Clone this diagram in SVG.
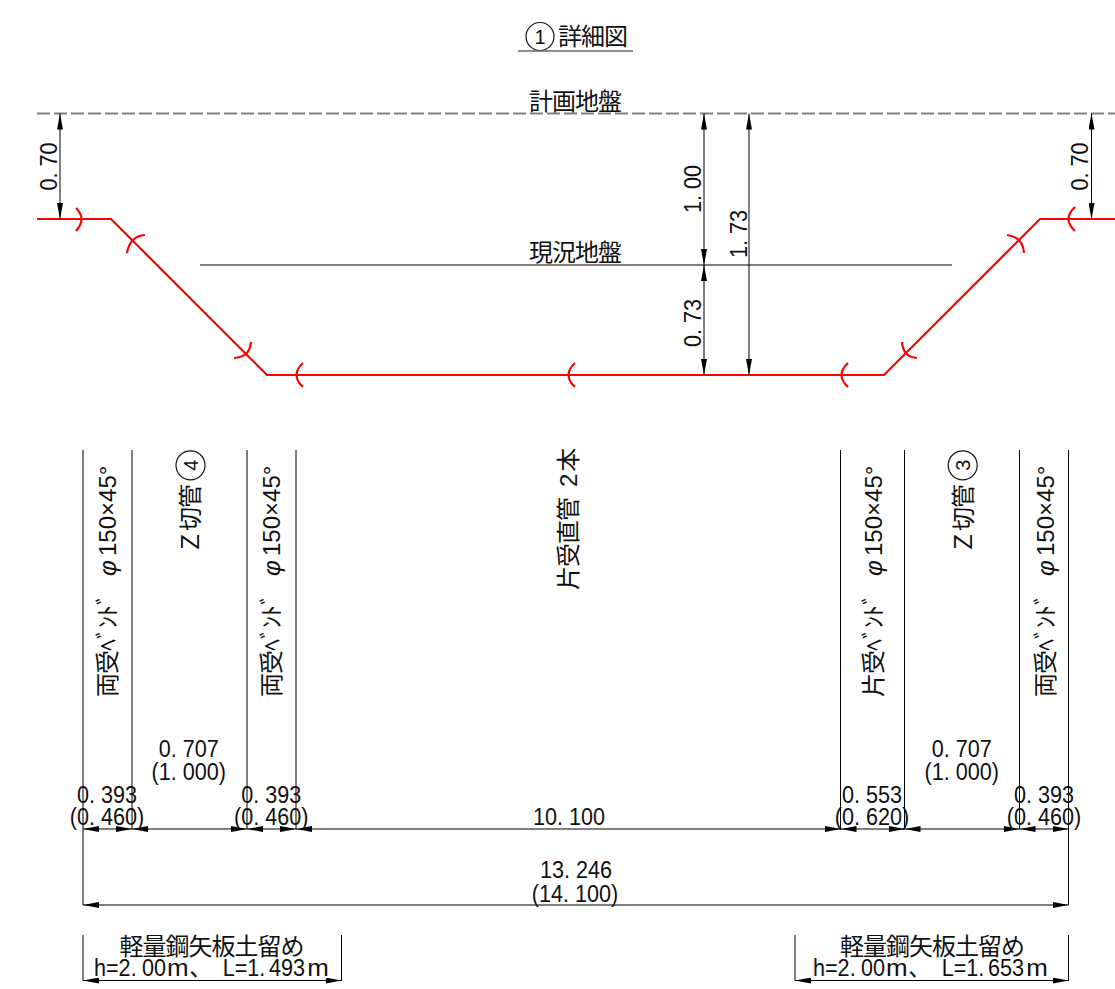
<svg xmlns="http://www.w3.org/2000/svg" width="1115" height="989" viewBox="0 0 1115 989">
<style>
text{font-family:"Noto Sans CJK JP","Liberation Sans",sans-serif;fill:#111;font-size:24px;letter-spacing:-1px}
.n{font-family:"Liberation Sans","Noto Sans CJK JP",sans-serif;font-size:24px;letter-spacing:0;text-anchor:middle}
.s{font-family:"Liberation Sans","Noto Sans CJK JP",sans-serif;font-size:24px;letter-spacing:0}
.l{font-family:"Liberation Sans",sans-serif;letter-spacing:0}
.o{font-family:"Liberation Sans",sans-serif;font-size:20px;letter-spacing:0;text-anchor:middle}
.j{text-anchor:middle}
.d{stroke:#000;stroke-width:1;fill:none}
.g{stroke:#808080;stroke-width:2;fill:none}
.r{stroke:#f00;stroke-width:2.2;fill:none}
.c{stroke:#111;stroke-width:1.2;fill:none}
</style>
<defs>
<marker id="a" viewBox="0 0 16 6" refX="16" refY="3" markerWidth="16" markerHeight="6" markerUnits="userSpaceOnUse" orient="auto-start-reverse"><path d="M16 3L0 0V6Z" fill="#000"/></marker>
</defs>
<rect width="1115" height="989" fill="#fff"/>
<g id="title"><circle class="c" cx="540" cy="36.500" r="14"/><text class="o" x="540" y="44">1</text><text x="558" y="45">詳細図</text><path class="g" style="stroke-width:1.500;stroke:#666" d="M518 51H633"/></g>
<g id="ground"><path class="g" stroke-dasharray="13 4" d="M37 113.500H1115"/><path class="g" d="M200 265H952"/><text class="j" x="575" y="110">計画地盤</text><text class="j" x="575" y="261">現況地盤</text></g>
<g id="pipe"><path class="r" d="M37 219H111L267 375H884L1040 219H1115"/>
<path class="r" d="M76 208Q87 219 76 231M145 235Q130 236 127 253M251 342Q250 357 234 358M303 363Q290 375 303 387M575 363Q562 375 575 387M848 363Q835 375 848 387M902 342Q903 357 917 358M1007 235Q1023 237 1024 253M1075 207Q1062 219 1075 231"/></g>
<g id="connectors">
<path class="d" marker-start="url(#a)" marker-end="url(#a)" d="M60 113.500V219"/>
<path class="d" marker-start="url(#a)" marker-end="url(#a)" d="M704 113.500V265"/>
<path class="d" marker-start="url(#a)" marker-end="url(#a)" d="M704 265V375"/>
<path class="d" marker-start="url(#a)" marker-end="url(#a)" d="M749 113.500V375"/>
<path class="d" marker-start="url(#a)" marker-end="url(#a)" d="M1091.500 113.500V219"/>
<path class="d" d="M83 450V905M132 450V829M247 450V829M296 450V829M840.500 450V829M904.500 450V829M1019.500 450V829M1068.500 450V905"/>
<path class="d" marker-start="url(#a)" marker-end="url(#a)" d="M83 829H132"/>
<path class="d" marker-start="url(#a)" marker-end="url(#a)" d="M132 829H247"/>
<path class="d" marker-start="url(#a)" marker-end="url(#a)" d="M247 829H296"/>
<path class="d" marker-start="url(#a)" marker-end="url(#a)" d="M296 829H840.500"/>
<path class="d" marker-start="url(#a)" marker-end="url(#a)" d="M840.500 829H904.500"/>
<path class="d" marker-start="url(#a)" marker-end="url(#a)" d="M904.500 829H1019.500"/>
<path class="d" marker-start="url(#a)" marker-end="url(#a)" d="M1019.500 829H1068.500"/>
<path class="d" marker-start="url(#a)" marker-end="url(#a)" d="M83 905H1068.500"/>
<path class="d" marker-start="url(#a)" marker-end="url(#a)" d="M83 980.500H341.500"/>
<path class="d" d="M83 935V981M341.500 935V981M795 935V981M1068.500 935V981"/>
<path class="d" marker-start="url(#a)" marker-end="url(#a)" d="M795 980.500H1068.500"/>
</g>
<g id="heights">
<text class="n" transform="translate(57 166.500) rotate(-90) scale(.9 1)">0.<tspan dx="6.700">70</tspan></text>
<text class="n" transform="translate(1088 166.500) rotate(-90) scale(.9 1)">0.<tspan dx="6.700">70</tspan></text>
<text class="n" transform="translate(701 189) rotate(-90) scale(.9 1)">1.<tspan dx="6.700">00</tspan></text>
<text class="n" transform="translate(701 323) rotate(-90) scale(.9 1)">0.<tspan dx="6.700">73</tspan></text>
<text class="n" transform="translate(746.500 234) rotate(-90) scale(.9 1)">1.<tspan dx="6.700">73</tspan></text>
</g>
<g id="labels-vertical">
<text transform="translate(116 697) rotate(-90)">両受ﾍﾞﾝﾄﾞ<tspan class="l" x="121" font-style="italic">φ</tspan><tspan class="l" x="141">150×45°</tspan></text>
<text transform="translate(280 697) rotate(-90)">両受ﾍﾞﾝﾄﾞ<tspan class="l" x="121" font-style="italic">φ</tspan><tspan class="l" x="141">150×45°</tspan></text>
<text transform="translate(882 697) rotate(-90)">片受ﾍﾞﾝﾄﾞ<tspan class="l" x="121" font-style="italic">φ</tspan><tspan class="l" x="141">150×45°</tspan></text>
<text transform="translate(1054 697) rotate(-90)">両受ﾍﾞﾝﾄﾞ<tspan class="l" x="121" font-style="italic">φ</tspan><tspan class="l" x="141">150×45°</tspan></text>
<text transform="translate(199 554) rotate(-90)">Ｚ切管</text>
<text transform="translate(972 554) rotate(-90)">Ｚ切管</text>
<circle class="c" cx="190.500" cy="465.300" r="14.500"/><text class="o" transform="translate(197.500 465.300) rotate(-90)">4</text>
<circle class="c" cx="962.700" cy="465.300" r="14.500"/><text class="o" transform="translate(969.700 465.300) rotate(-90)">3</text>
<text transform="translate(577 590) rotate(-90)">片受直管<tspan class="l" dx="11">2</tspan><tspan dx="2">本</tspan></text>
</g>
<g id="dims">
<text class="n" transform="translate(188.700 757) scale(.9 1)">0.<tspan dx="6.700">707</tspan></text><text class="n" transform="translate(188.700 780) scale(.9 1)">(1.<tspan dx="6.700">000</tspan>)</text>
<text class="n" transform="translate(961.700 757) scale(.9 1)">0.<tspan dx="6.700">707</tspan></text><text class="n" transform="translate(961.700 780) scale(.9 1)">(1.<tspan dx="6.700">000</tspan>)</text>
<text class="n" transform="translate(107 802.500) scale(.9 1)">0.<tspan dx="6.700">393</tspan></text><text class="n" transform="translate(107 825) scale(.9 1)">(0.<tspan dx="6.700">460</tspan>)</text>
<text class="n" transform="translate(271.300 802.500) scale(.9 1)">0.<tspan dx="6.700">393</tspan></text><text class="n" transform="translate(271.300 825) scale(.9 1)">(0.<tspan dx="6.700">460</tspan>)</text>
<text class="n" transform="translate(872 802.500) scale(.9 1)">0.<tspan dx="6.700">553</tspan></text><text class="n" transform="translate(872 825) scale(.9 1)">(0.<tspan dx="6.700">620</tspan>)</text>
<text class="n" transform="translate(1044 802.500) scale(.9 1)">0.<tspan dx="6.700">393</tspan></text><text class="n" transform="translate(1044 825) scale(.9 1)">(0.<tspan dx="6.700">460</tspan>)</text>
<text class="n" transform="translate(569 825) scale(.9 1)">10.<tspan dx="6.700">100</tspan></text>
<text class="n" transform="translate(576 878) scale(.9 1)">13.<tspan dx="6.700">246</tspan></text><text class="n" transform="translate(575 901.500) scale(.9 1)">(14.<tspan dx="6.700">100</tspan>)</text>
</g>
<g id="shoring">
<text class="j" x="211.500" y="955">軽量鋼矢板土留め</text>
<text class="s" transform="translate(94 976) scale(.9 1)">h=2.<tspan dx="6">00</tspan><tspan x="81" textLength="24" lengthAdjust="spacingAndGlyphs">m</tspan><tspan x="106">、</tspan><tspan x="143">L=1.</tspan><tspan dx="4">493</tspan><tspan x="237" textLength="24" lengthAdjust="spacingAndGlyphs">m</tspan></text>
<text class="j" x="932" y="955">軽量鋼矢板土留め</text>
<text class="s" transform="translate(813 976) scale(.9 1)">h=2.<tspan dx="6">00</tspan><tspan x="81" textLength="24" lengthAdjust="spacingAndGlyphs">m</tspan><tspan x="106">、</tspan><tspan x="143">L=1.</tspan><tspan dx="4">653</tspan><tspan x="237" textLength="24" lengthAdjust="spacingAndGlyphs">m</tspan></text>
</g>
</svg>
